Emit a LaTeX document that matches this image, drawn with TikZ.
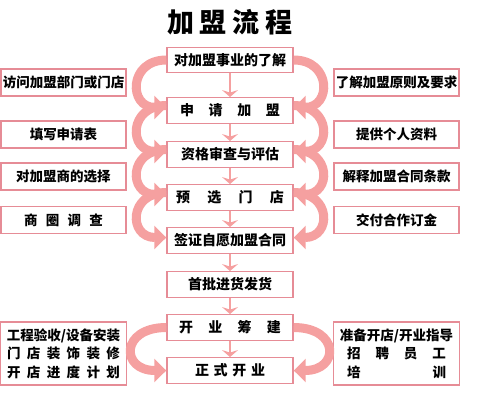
\documentclass[tikz,border=0pt]{standalone}
\usepackage{fontspec}
\setmainfont{Noto Sans CJK SC}
\usetikzlibrary{arrows.meta}
\definecolor{boxline}{RGB}{230,140,150}
\definecolor{arrowpink}{RGB}{245,160,160}
\newcommand{\spr}[2]{\makebox[#1][s]{#2}}
\newcommand{\hf}{\hfill}
\begin{document}
\begin{tikzpicture}[x=1pt,y=-1pt,
  mainbox/.style={draw=boxline,line width=1.4pt,minimum width=126pt,minimum height=25.5pt,inner sep=0pt,
    font=\fontsize{14}{14}\selectfont\bfseries},
  sidebox/.style={draw=boxline,line width=1.4pt,minimum width=125pt,minimum height=27pt,inner sep=0pt,
    font=\fontsize{13.5}{13.5}\selectfont\bfseries},
  bigbox/.style={draw=boxline,line width=1.4pt,minimum width=126pt,minimum height=63pt,inner sep=0pt,
    align=center,font=\fontsize{13.5}{18.5}\selectfont\bfseries},
  flow/.style={draw=arrowpink,line width=1.6pt,-{Stealth[length=7pt,width=16pt,inset=2.5pt]}},
  loop/.style={draw=arrowpink,line width=9pt,-{Triangle[length=12pt,width=23pt]}}]
\useasboundingbox (0,0) rectangle (485,400);
\node[font=\fontsize{27}{27}\selectfont\bfseries] (title) at (230,22) {加\hspace{6pt}盟\hspace{6pt}流\hspace{6pt}程};
% main flow
\node[mainbox] (b1) at (230,60) {对加盟事业的了解};
\node[mainbox] (b2) at (230,110.5) {\spr{100pt}{申\hf{}请\hf{}加\hf{}盟}};
\node[mainbox] (b3) at (230,154.5) {资格审查与评估};
\node[mainbox] (b4) at (230,197.5) {\spr{108pt}{预\hf{}选\hf{}门\hf{}店}};
\node[mainbox] (b5) at (230,240.5) {签证自愿加盟合同};
\node[mainbox] (b6) at (230,284.5) {首批进货发货};
\node[mainbox] (b7) at (230,327.5) {\spr{102pt}{开\hf{}业\hf{}筹\hf{}建}};
\node[mainbox] (b8) at (230,370.5) {\spr{70pt}{正\hf{}式\hf{}开\hf{}业}};
% side boxes
\node[sidebox] (l1) at (63.5,82.5) {访问加盟部门或门店};
\node[sidebox] (l2) at (63.5,134.5) {填写申请表};
\node[sidebox] (l3) at (63.5,176.5) {对加盟商的选择};
\node[sidebox] (l4) at (63.5,220) {\spr{79pt}{商\hf{}圈\hf{}调\hf{}查}};
\node[sidebox] (r1) at (396.5,82.5) {了解加盟原则及要求};
\node[sidebox] (r2) at (396.5,134.5) {提供个人资料};
\node[sidebox] (r3) at (396.5,176.5) {解释加盟合同条款};
\node[sidebox] (r4) at (396.5,220) {交付合作订金};
\node[bigbox] (lb) at (63.5,353.5) {工程验收/设备安装\\\spr{113pt}{门\hf{}店\hf{}装\hf{}饰\hf{}装\hf{}修}\\\spr{113pt}{开\hf{}店\hf{}进\hf{}度\hf{}计\hf{}划}};
\node[bigbox] (rb) at (396.5,353.5) {准备开店/开业指导\\\spr{99pt}{招\hf{}聘\hf{}员\hf{}工}\\\spr{99pt}{培\hf{}训}};
% straight arrows
\foreach \a/\b in {b1/b2,b2/b3,b3/b4,b4/b5,b5/b6,b6/b7,b7/b8}
  \draw[flow] (\a.south) -- (\b.north);
% loop arrows
\foreach \a/\b/\s in {b1/b2/0,b2/b3/5,b3/b4/5,b4/b5/5}{
  \draw[loop] ([yshift=\s pt]\a.west) .. controls +(-38,0) and +(-38,0) .. ([yshift=3pt]\b.west);
  \draw[loop] ([yshift=\s pt]\a.east) .. controls +(38,0) and +(38,0) .. ([yshift=3pt]\b.east);
}
\draw[loop] (b7.west) .. controls +(-46,0) and +(-46,0) .. (b8.west);
\draw[loop] (b7.east) .. controls +(46,0) and +(46,0) .. (b8.east);
\end{tikzpicture}
\end{document}
